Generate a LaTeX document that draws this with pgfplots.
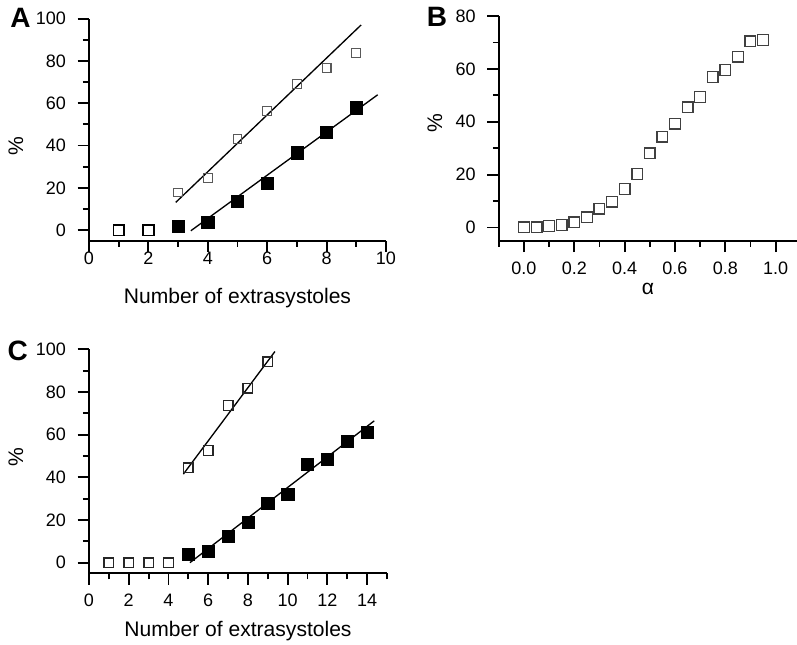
\documentclass[border=0pt]{standalone}
\usepackage{fontspec}
\setmainfont{Liberation Sans}
\usepackage{pgfplots}
\pgfplotsset{compat=1.18}
\pgfplotsset{
  panel/.style={
    scale only axis,
    axis x line=bottom, axis y line=left,
    axis line style={-, line width=1.4pt},
    tick align=outside,
    major tick length=8.5pt, minor tick length=4.5pt,
    every tick/.style={black, line width=1.4pt},
    minor tick num=1,
    clip=false,
    tick label style={font=\fontsize{13.5}{15}\selectfont},
    /pgf/number format/assume math mode=true,
    label style={font=\fontsize{15.8}{18}\selectfont},
    yticklabel style={anchor=east, inner sep=0pt, xshift=-8.7pt},
  },
  openbig/.style={only marks, mark=square, mark size=4pt, mark options={line width=1.3pt, draw=black, fill=none}},
  opensmall/.style={only marks, mark=square, mark size=3.3pt, mark options={line width=0.8pt, draw=black!65, fill=none}},
  filled/.style={only marks, mark=square*, mark size=4.6pt, mark options={draw=black, fill=black}},
  fit/.style={no marks, black, line width=1pt},
}
\newcommand{\panellabel}[3]{\node[anchor=base west, inner sep=0pt, font=\fontsize{21}{23}\selectfont\bfseries] at (axis description cs:#1,#2) {#3};}
\begin{document}
\begin{tikzpicture}
\useasboundingbox (0,0) rectangle (597.75pt,-483pt);
% Panel A
\begin{axis}[panel,
  at={(66.75pt,-180.5pt)}, anchor=south west,
  width=222.75pt, height=166.5pt,
  xmin=0, xmax=10, ymin=-5, ymax=100,
  xtick={0,2,...,10}, ytick={0,20,...,100},
  xticklabel style={anchor=north, inner sep=0pt},
  xlabel={Number of extrasystoles}, ylabel={\%},
  xlabel style={at={(axis description cs:0.5,0)}, anchor=base, yshift=-47pt},
  ylabel style={at={(axis description cs:-0.246,0.427)}, anchor=center},
]
\addplot[fit] coordinates {(2.92,13.1) (9.16,97)};
\addplot[fit] coordinates {(3.43,-0.3) (9.72,64)};
\addplot[openbig] coordinates {(1,0) (2,0)};
\addplot[opensmall] coordinates {(3,17.8) (4,24.8) (5,43.2) (6,56.4) (7,69.2) (8,76.7) (9,83.6)};
\addplot[filled] coordinates {(3,1.9) (4,3.6) (5,13.8) (6,22.3) (7,36.6) (8,46.4) (9,57.9)};
\panellabel{-0.266}{0.961}{A}
\end{axis}
% Panel B
\begin{axis}[panel,
  at={(374.1pt,-180.5pt)}, anchor=south west,
  width=223.65pt, height=168.5pt,
  xmin=-0.1, xmax=1.085, ymin=-5, ymax=80,
  xtick={0,0.2,...,1.0}, ytick={0,20,...,80},
  minor xtick={-0.1,0.1,0.3,0.5,0.7,0.9},
  xticklabel style={anchor=north, inner sep=0pt, yshift=-7.5pt,
    /pgf/number format/fixed, /pgf/number format/fixed zerofill, /pgf/number format/precision=1},
  xlabel={α}, ylabel={\%},
  xlabel style={at={(axis description cs:0.5,0)}, anchor=base, yshift=-40.7pt},
  ylabel style={at={(axis description cs:-0.214,0.524)}, anchor=center},
]
\addplot[only marks, mark=square, mark size=4pt, mark options={line width=1pt, draw=black!75, fill=none}] coordinates {
(0,0) (0.05,0) (0.1,0.6) (0.15,0.9) (0.2,1.9) (0.25,3.8) (0.3,7.1) (0.35,9.7)
(0.4,14.6) (0.45,20.2) (0.5,28) (0.55,34.3) (0.6,39.3) (0.65,45.5) (0.7,49.4)
(0.75,56.9) (0.8,59.6) (0.85,64.6) (0.9,70.4) (0.95,70.9)};
\panellabel{-0.242}{0.955}{B}
\end{axis}
% Panel C
\begin{axis}[panel,
  at={(66.75pt,-430pt)}, anchor=south west,
  width=223.5pt, height=168pt,
  xmin=0, xmax=15, ymin=-5, ymax=100,
  xtick={0,2,...,14}, ytick={0,20,...,100},
  minor xtick={1,3,...,15},
  xticklabel style={anchor=north, inner sep=0pt, yshift=-6.75pt},
  xlabel={Number of extrasystoles}, ylabel={\%},
  xlabel style={at={(axis description cs:0.5,0)}, anchor=base, yshift=-47.5pt},
  ylabel style={at={(axis description cs:-0.245,0.519)}, anchor=center},
]
\addplot[fit] coordinates {(4.75,41.5) (9.36,99)};
\addplot[fit] coordinates {(5.08,0) (14.36,66.5)};
\addplot[only marks, mark=square, mark size=3.6pt, mark options={line width=1.1pt, draw=black!85, fill=none}] coordinates {(1,0) (2,0) (3,0) (4,0) (5,44.4) (6,52.6) (7,73.7) (8,81.7) (9,94.2)};
\addplot[filled] coordinates {(5,3.9) (6,5.3) (7,12.4) (8,18.8) (9,28) (10,31.9) (11,46.3) (12,48.4) (13,57) (14,61)};
\panellabel{-0.274}{0.948}{C}
\end{axis}
\end{tikzpicture}
\end{document}
